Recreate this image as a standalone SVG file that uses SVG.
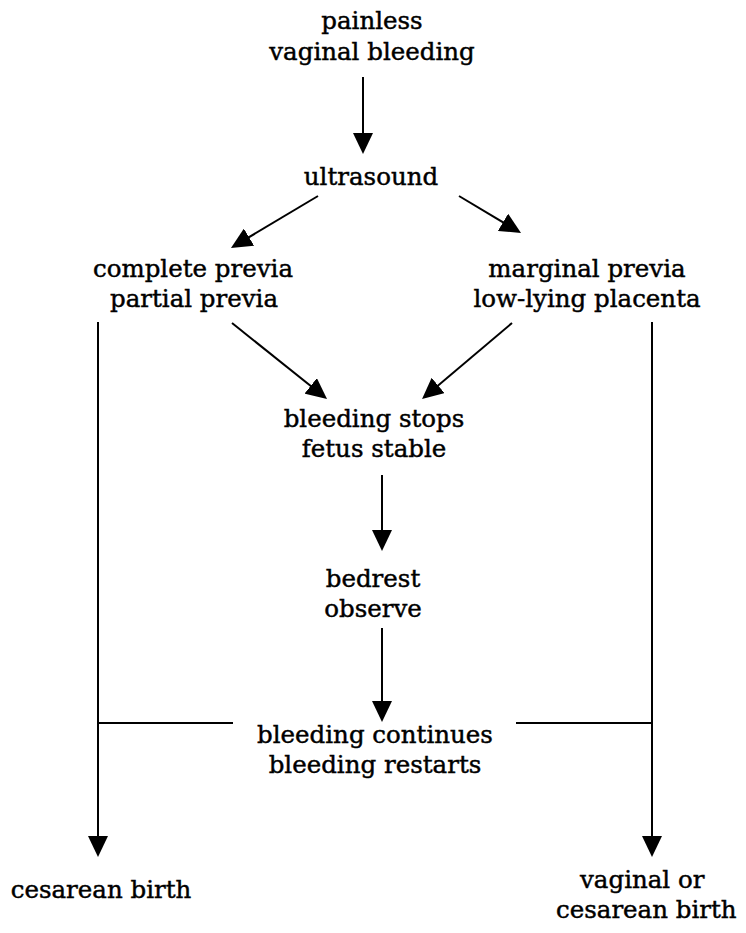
<svg xmlns="http://www.w3.org/2000/svg" width="746" height="933" viewBox="0 0 746 933">
  <style>
    .lbl { font-family: "DejaVu Serif", "Liberation Serif", serif; font-size: 24.5px; fill: #000; stroke: #000; stroke-width: 0.45; text-anchor: middle; }
    .lbl.start { text-anchor: start; }
    .wire { stroke: #000; stroke-width: 2; fill: none; }
    .arrow { stroke: #000; stroke-width: 2; fill: none; marker-end: url(#head); }
  </style>
  <defs>
    <marker id="head" viewBox="0 0 21 20" refX="17" refY="10" markerWidth="21" markerHeight="20" markerUnits="userSpaceOnUse" orient="auto">
      <path d="M0,0 L21,10 L0,20 z" fill="#000"/>
    </marker>
  </defs>
  <rect width="746" height="933" fill="#fff"/>

  <!-- connectors -->
  <g id="connectors">
    <line class="arrow" x1="363" y1="77" x2="363" y2="150"/>
    <line class="arrow" x1="318" y1="196" x2="234.4" y2="245.9"/>
    <line class="arrow" x1="459" y1="196" x2="517.6" y2="231"/>
    <line class="arrow" x1="232" y1="323" x2="323.9" y2="396.5"/>
    <line class="arrow" x1="512" y1="323" x2="425.1" y2="396.4"/>
    <line class="arrow" x1="382" y1="475" x2="382" y2="547"/>
    <line class="arrow" x1="382" y1="628" x2="382" y2="718"/>
    <line class="arrow" x1="98" y1="322" x2="98" y2="853"/>
    <line class="arrow" x1="652" y1="322" x2="652" y2="853"/>
    <line class="wire" x1="98" y1="723" x2="233" y2="723"/>
    <line class="wire" x1="516" y1="723" x2="652" y2="723"/>
  </g>

  <!-- nodes -->
  <g id="bleeding">
    <text class="lbl" x="372" y="29">painless</text>
    <text class="lbl" x="372" y="60">vaginal bleeding</text>
  </g>
  <g id="ultrasound">
    <text class="lbl" x="371" y="185">ultrasound</text>
  </g>
  <g id="previa-complete">
    <text class="lbl" x="193" y="277">complete previa</text>
    <text class="lbl" x="194" y="307">partial previa</text>
  </g>
  <g id="previa-marginal">
    <text class="lbl" x="587" y="277">marginal previa</text>
    <text class="lbl" x="587" y="307">low-lying placenta</text>
  </g>
  <g id="stable">
    <text class="lbl" x="374" y="427">bleeding stops</text>
    <text class="lbl" x="374" y="457">fetus stable</text>
  </g>
  <g id="bedrest">
    <text class="lbl" x="373" y="587">bedrest</text>
    <text class="lbl" x="373" y="617">observe</text>
  </g>
  <g id="recurrence">
    <text class="lbl" x="375" y="743">bleeding continues</text>
    <text class="lbl" x="375" y="773">bleeding restarts</text>
  </g>
  <g id="cesarean">
    <text class="lbl" x="101" y="898">cesarean birth</text>
  </g>
  <g id="vaginal-or-cesarean">
    <text class="lbl start" x="580" y="888">vaginal or</text>
    <text class="lbl start" x="556" y="918">cesarean birth</text>
  </g>
</svg>
